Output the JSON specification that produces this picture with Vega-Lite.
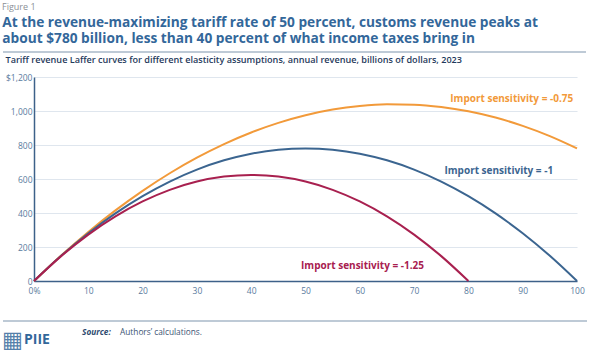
{
  "$schema": "https://vega.github.io/schema/vega-lite/v6.json",
  "padding": {"top": 2, "left": 2, "right": 4, "bottom": 2},
  "background": "white",
  "spacing": 3,
  "config": {"view": {"stroke": null}, "font": "Open Sans"},
  "title": {"text": "Figure 1", "anchor": "start", "frame": "bounds", "fontSize": 9, "font": "Open Sans", "fontWeight": "normal", "color": "#8a8f96", "offset": 4},
  "datasets": {
    "curves": [
      {"rate": 0, "revenue": 0, "series": "-0.75"},
      {"rate": 5, "revenue": 150.2, "series": "-0.75"},
      {"rate": 10, "revenue": 288.6, "series": "-0.75"},
      {"rate": 15, "revenue": 415.4, "series": "-0.75"},
      {"rate": 20, "revenue": 530.4, "series": "-0.75"},
      {"rate": 25, "revenue": 633.8, "series": "-0.75"},
      {"rate": 30, "revenue": 725.4, "series": "-0.75"},
      {"rate": 35, "revenue": 805.4, "series": "-0.75"},
      {"rate": 40, "revenue": 873.6, "series": "-0.75"},
      {"rate": 45, "revenue": 930.2, "series": "-0.75"},
      {"rate": 50, "revenue": 975.0, "series": "-0.75"},
      {"rate": 55, "revenue": 1008.2, "series": "-0.75"},
      {"rate": 60, "revenue": 1029.6, "series": "-0.75"},
      {"rate": 65, "revenue": 1039.4, "series": "-0.75"},
      {"rate": 70, "revenue": 1037.4, "series": "-0.75"},
      {"rate": 75, "revenue": 1023.8, "series": "-0.75"},
      {"rate": 80, "revenue": 998.4, "series": "-0.75"},
      {"rate": 85, "revenue": 961.4, "series": "-0.75"},
      {"rate": 90, "revenue": 912.6, "series": "-0.75"},
      {"rate": 95, "revenue": 852.2, "series": "-0.75"},
      {"rate": 100, "revenue": 780.0, "series": "-0.75"},
      {"rate": 0, "revenue": 0, "series": "-1"},
      {"rate": 5, "revenue": 148.2, "series": "-1"},
      {"rate": 10, "revenue": 280.8, "series": "-1"},
      {"rate": 15, "revenue": 397.8, "series": "-1"},
      {"rate": 20, "revenue": 499.2, "series": "-1"},
      {"rate": 25, "revenue": 585.0, "series": "-1"},
      {"rate": 30, "revenue": 655.2, "series": "-1"},
      {"rate": 35, "revenue": 709.8, "series": "-1"},
      {"rate": 40, "revenue": 748.8, "series": "-1"},
      {"rate": 45, "revenue": 772.2, "series": "-1"},
      {"rate": 50, "revenue": 780.0, "series": "-1"},
      {"rate": 55, "revenue": 772.2, "series": "-1"},
      {"rate": 60, "revenue": 748.8, "series": "-1"},
      {"rate": 65, "revenue": 709.8, "series": "-1"},
      {"rate": 70, "revenue": 655.2, "series": "-1"},
      {"rate": 75, "revenue": 585.0, "series": "-1"},
      {"rate": 80, "revenue": 499.2, "series": "-1"},
      {"rate": 85, "revenue": 397.8, "series": "-1"},
      {"rate": 90, "revenue": 280.8, "series": "-1"},
      {"rate": 95, "revenue": 148.2, "series": "-1"},
      {"rate": 100, "revenue": 0, "series": "-1"},
      {"rate": 0, "revenue": 0, "series": "-1.25"},
      {"rate": 5, "revenue": 146.3, "series": "-1.25"},
      {"rate": 10, "revenue": 273.0, "series": "-1.25"},
      {"rate": 15, "revenue": 380.3, "series": "-1.25"},
      {"rate": 20, "revenue": 468.0, "series": "-1.25"},
      {"rate": 25, "revenue": 536.3, "series": "-1.25"},
      {"rate": 30, "revenue": 585.0, "series": "-1.25"},
      {"rate": 35, "revenue": 614.3, "series": "-1.25"},
      {"rate": 40, "revenue": 624.0, "series": "-1.25"},
      {"rate": 45, "revenue": 614.3, "series": "-1.25"},
      {"rate": 50, "revenue": 585.0, "series": "-1.25"},
      {"rate": 55, "revenue": 536.3, "series": "-1.25"},
      {"rate": 60, "revenue": 468.0, "series": "-1.25"},
      {"rate": 65, "revenue": 380.3, "series": "-1.25"},
      {"rate": 70, "revenue": 273.0, "series": "-1.25"},
      {"rate": 75, "revenue": 146.3, "series": "-1.25"},
      {"rate": 80, "revenue": 0, "series": "-1.25"}
    ],
    "labels": [
      {"rate": 99.3, "revenue": 1069, "series": "-0.75", "label": "Import sensitivity = -0.75"},
      {"rate": 95.6, "revenue": 650, "series": "-1", "label": "Import sensitivity = -1"},
      {"rate": 60.5, "revenue": 91, "series": "-1.25", "label": "Import sensitivity = -1.25"}
    ]
  },
  "vconcat": [
    {
      "width": 543,
      "height": 2,
      "title": {
        "text": ["At the revenue-maximizing tariff rate of 50 percent, customs revenue peaks at", "about $780 billion, less than 40 percent of what income taxes bring in"],
        "anchor": "start", "frame": "bounds", "font": "Open Sans", "fontSize": 13.7, "fontWeight": "bold",
        "color": "#33679a", "lineHeight": 16.5, "offset": 5
      },
      "data": {"values": [{"from": 2, "to": 585, "yy": 1}]},
      "mark": {"type": "rule", "strokeWidth": 1.3},
      "encoding": {
        "x": {"field": "from", "type": "quantitative", "scale": {"domain": [33, 576], "nice": false, "zero": false}, "axis": null},
        "x2": {"field": "to"},
        "y": {"field": "yy", "type": "quantitative", "scale": {"domain": [2, 0], "nice": false, "zero": false}, "axis": null},
        "color": {"value": "#a9b8c8"}
      }
    },
    {
      "width": 543,
      "height": 204,
      "title": {
        "text": "Tariff revenue Laffer curves for different elasticity assumptions, annual revenue, billions of dollars, 2023",
        "anchor": "start", "frame": "bounds", "font": "Open Sans", "fontSize": 9.1, "fontWeight": 600,
        "color": "#1f3a5c", "offset": 7.5
      },
      "encoding": {
        "x": {
          "field": "rate", "type": "quantitative",
          "scale": {"domain": [0, 100], "nice": false},
          "axis": {
            "values": [0, 10, 20, 30, 40, 50, 60, 70, 80, 90, 100],
            "labelExpr": "datum.value == 0 ? '0%' : format(datum.value, 'd')",
            "labelOverlap": false, "labelFlush": false,
            "title": null, "grid": false, "ticks": false,
            "domainColor": "#3d6189", "domainWidth": 1.5,
            "labelColor": "#5a7b9e", "labelFontSize": 8.5, "labelFont": "Open Sans", "labelPadding": 5
          }
        },
        "y": {
          "field": "revenue", "type": "quantitative",
          "scale": {"domain": [0, 1200], "nice": false},
          "axis": {
            "values": [0, 200, 400, 600, 800, 1000, 1200],
            "labelExpr": "datum.value == 1200 ? '$1,200' : format(datum.value, ',')",
            "labelOverlap": false, "labelFlush": false,
            "title": null, "grid": true, "gridColor": "#dfe6ee", "gridWidth": 1.2, "ticks": false,
            "domainColor": "#3d6189", "domainWidth": 1.5,
            "labelColor": "#5a7b9e", "labelFontSize": 8.5, "labelFont": "Open Sans", "labelPadding": 2
          }
        },
        "color": {
          "field": "series", "type": "nominal",
          "scale": {"domain": ["-0.75", "-1", "-1.25"], "range": ["#f29a3a", "#3b6590", "#a8204f"]},
          "legend": null
        }
      },
      "layer": [
        {
          "data": {"name": "curves"},
          "mark": {"type": "line", "interpolate": "monotone", "strokeWidth": 2}
        },
        {
          "data": {"name": "labels"},
          "transform": [{"filter": "datum.series != '-1.25'"}],
          "mark": {"type": "text", "align": "right", "baseline": "middle", "fontSize": 10, "fontWeight": "bold", "font": "Open Sans"},
          "encoding": {"text": {"field": "label"}}
        },
        {
          "data": {"name": "labels"},
          "transform": [{"filter": "datum.series == '-1.25'"}],
          "mark": {"type": "text", "align": "center", "baseline": "middle", "fontSize": 10, "fontWeight": "bold", "font": "Open Sans"},
          "encoding": {"text": {"field": "label"}}
        }
      ]
    },
    {
      "width": 543,
      "height": 46,
      "layer": [
        {
          "data": {"values": [{"from": 2, "to": 586, "yy": 23}]},
          "mark": {"type": "rule", "strokeWidth": 1.3},
          "encoding": {
            "x": {"field": "from", "type": "quantitative", "scale": {"domain": [33, 576], "nice": false, "zero": false}, "axis": null},
            "x2": {"field": "to"},
            "y": {"field": "yy", "type": "quantitative", "scale": {"domain": [46, 0], "nice": false, "zero": false}, "axis": null},
            "color": {"value": "#a9b8c8"}
          }
        },
        {
          "data": {"values": [{"text": "▦"}]},
          "mark": {"type": "text", "align": "left", "baseline": "middle", "fontSize": 22, "font": "DejaVu Sans", "color": "#5580aa"},
          "encoding": {"x": {"datum": 1, "type": "quantitative"}, "y": {"datum": 41.5, "type": "quantitative"}, "text": {"field": "text"}}
        },
        {
          "data": {"values": [{"text": "PIIE"}]},
          "mark": {"type": "text", "align": "left", "baseline": "middle", "fontSize": 14, "fontWeight": "bold", "font": "Open Sans", "color": "#33679a"},
          "encoding": {"x": {"datum": 23, "type": "quantitative"}, "y": {"datum": 41.5, "type": "quantitative"}, "text": {"field": "text"}}
        },
        {
          "data": {"values": [{"text": "Source:"}]},
          "mark": {"type": "text", "align": "left", "baseline": "middle", "fontSize": 8.3, "fontWeight": "bold", "fontStyle": "italic", "font": "Open Sans", "color": "#2d4a6e"},
          "encoding": {"x": {"datum": 81, "type": "quantitative"}, "y": {"datum": 35, "type": "quantitative"}, "text": {"field": "text"}}
        },
        {
          "data": {"values": [{"text": "Authors’ calculations."}]},
          "mark": {"type": "text", "align": "left", "baseline": "middle", "fontSize": 8.3, "font": "Open Sans", "color": "#3b5474"},
          "encoding": {"x": {"datum": 119, "type": "quantitative"}, "y": {"datum": 35, "type": "quantitative"}, "text": {"field": "text"}}
        }
      ]
    }
  ]
}
